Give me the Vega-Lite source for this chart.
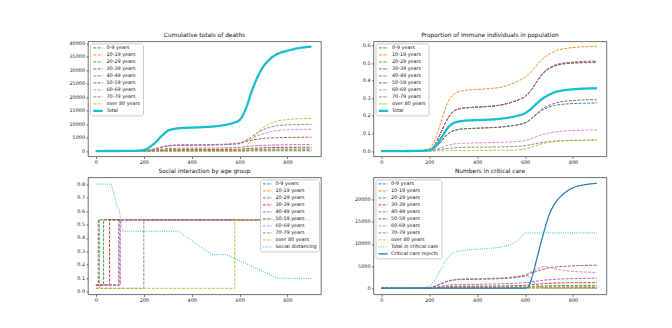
{
  "$schema": "https://vega.github.io/schema/vega-lite/v6.json",
  "background": "white",
  "padding": {"left": 68, "top": 30.4, "right": 5, "bottom": 5},
  "columns": 2,
  "spacing": {"row": 1, "column": 31.5},
  "datasets": {
    "deaths": [
      {"x": 0, "0-9 years": 0, "10-19 years": 0, "20-29 years": 0, "30-39 years": 0, "40-49 years": 0, "50-59 years": 0, "60-69 years": 0, "70-79 years": 0, "over 80 years": 0, "Total": 0},
      {"x": 150, "0-9 years": 0, "10-19 years": 0, "20-29 years": 2, "30-39 years": 3, "40-49 years": 6, "50-59 years": 13, "60-69 years": 14, "70-79 years": 13, "over 80 years": 0, "Total": 50},
      {"x": 200, "0-9 years": 1, "10-19 years": 3, "20-29 years": 13, "30-39 years": 25, "40-49 years": 49, "50-59 years": 99, "60-69 years": 108, "70-79 years": 103, "over 80 years": 0, "Total": 400},
      {"x": 225, "0-9 years": 4, "10-19 years": 11, "20-29 years": 48, "30-39 years": 93, "40-49 years": 185, "50-59 years": 370, "60-69 years": 405, "70-79 years": 387, "over 80 years": 0, "Total": 1500},
      {"x": 250, "0-9 years": 8, "10-19 years": 25, "20-29 years": 105, "30-39 years": 206, "40-49 years": 407, "50-59 years": 815, "60-69 years": 892, "70-79 years": 853, "over 80 years": 0, "Total": 3300},
      {"x": 275, "0-9 years": 13, "10-19 years": 43, "20-29 years": 178, "30-39 years": 349, "40-49 years": 692, "50-59 years": 1384, "60-69 years": 1516, "70-79 years": 1450, "over 80 years": 0, "Total": 5600},
      {"x": 300, "0-9 years": 18, "10-19 years": 57, "20-29 years": 238, "30-39 years": 467, "40-49 years": 926, "50-59 years": 1852, "60-69 years": 2029, "70-79 years": 1940, "over 80 years": 0, "Total": 7500},
      {"x": 325, "0-9 years": 19, "10-19 years": 63, "20-29 years": 260, "30-39 years": 511, "40-49 years": 1013, "50-59 years": 2027, "60-69 years": 2220, "70-79 years": 2123, "over 80 years": 0, "Total": 8200},
      {"x": 350, "0-9 years": 20, "10-19 years": 65, "20-29 years": 270, "30-39 years": 530, "40-49 years": 1050, "50-59 years": 2100, "60-69 years": 2300, "70-79 years": 2200, "over 80 years": 0, "Total": 8500},
      {"x": 400, "0-9 years": 21, "10-19 years": 67, "20-29 years": 277, "30-39 years": 543, "40-49 years": 1073, "50-59 years": 2153, "60-69 years": 2353, "70-79 years": 2233, "over 80 years": 0, "Total": 8700},
      {"x": 450, "0-9 years": 21, "10-19 years": 69, "20-29 years": 283, "30-39 years": 555, "40-49 years": 1096, "50-59 years": 2207, "60-69 years": 2407, "70-79 years": 2267, "over 80 years": 0, "Total": 8900},
      {"x": 500, "0-9 years": 22, "10-19 years": 73, "20-29 years": 293, "30-39 years": 575, "40-49 years": 1132, "50-59 years": 2287, "60-69 years": 2487, "70-79 years": 2317, "over 80 years": 0, "Total": 9200},
      {"x": 550, "0-9 years": 25, "10-19 years": 81, "20-29 years": 317, "30-39 years": 620, "40-49 years": 1210, "50-59 years": 2473, "60-69 years": 2673, "70-79 years": 2433, "over 80 years": 0, "Total": 9900},
      {"x": 575, "0-9 years": 27, "10-19 years": 88, "20-29 years": 337, "30-39 years": 660, "40-49 years": 1283, "50-59 years": 2633, "60-69 years": 2833, "70-79 years": 2533, "over 80 years": 0, "Total": 10500},
      {"x": 600, "0-9 years": 30, "10-19 years": 100, "20-29 years": 370, "30-39 years": 720, "40-49 years": 1400, "50-59 years": 2900, "60-69 years": 3100, "70-79 years": 2700, "over 80 years": 150, "Total": 11500},
      {"x": 625, "0-9 years": 40, "10-19 years": 140, "20-29 years": 430, "30-39 years": 850, "40-49 years": 1650, "50-59 years": 3500, "60-69 years": 3800, "70-79 years": 3800, "over 80 years": 1500, "Total": 15500},
      {"x": 650, "0-9 years": 55, "10-19 years": 200, "20-29 years": 520, "30-39 years": 990, "40-49 years": 1850, "50-59 years": 4000, "60-69 years": 4700, "70-79 years": 5300, "over 80 years": 4000, "Total": 22000},
      {"x": 675, "0-9 years": 70, "10-19 years": 260, "20-29 years": 600, "30-39 years": 1100, "40-49 years": 2000, "50-59 years": 4400, "60-69 years": 5700, "70-79 years": 6800, "over 80 years": 6800, "Total": 27500},
      {"x": 700, "0-9 years": 80, "10-19 years": 300, "20-29 years": 650, "30-39 years": 1200, "40-49 years": 2100, "50-59 years": 4700, "60-69 years": 6500, "70-79 years": 8000, "over 80 years": 8800, "Total": 31500},
      {"x": 725, "0-9 years": 88, "10-19 years": 340, "20-29 years": 690, "30-39 years": 1270, "40-49 years": 2200, "50-59 years": 4850, "60-69 years": 7100, "70-79 years": 8800, "over 80 years": 10100, "Total": 34000},
      {"x": 750, "0-9 years": 93, "10-19 years": 365, "20-29 years": 715, "30-39 years": 1320, "40-49 years": 2270, "50-59 years": 4950, "60-69 years": 7500, "70-79 years": 9300, "over 80 years": 11000, "Total": 35700},
      {"x": 800, "0-9 years": 97, "10-19 years": 385, "20-29 years": 735, "30-39 years": 1370, "40-49 years": 2350, "50-59 years": 5050, "60-69 years": 7850, "70-79 years": 9700, "over 80 years": 11700, "Total": 37300},
      {"x": 850, "0-9 years": 99, "10-19 years": 395, "20-29 years": 745, "30-39 years": 1390, "40-49 years": 2390, "50-59 years": 5100, "60-69 years": 8000, "70-79 years": 9850, "over 80 years": 12000, "Total": 38300},
      {"x": 900, "0-9 years": 100, "10-19 years": 400, "20-29 years": 750, "30-39 years": 1400, "40-49 years": 2400, "50-59 years": 5150, "60-69 years": 8100, "70-79 years": 9900, "over 80 years": 12100, "Total": 38800}
    ],
    "immune": [
      {"x": 0, "0-9 years": 0, "10-19 years": 0, "20-29 years": 0, "30-39 years": 0, "40-49 years": 0, "50-59 years": 0, "60-69 years": 0, "70-79 years": 0, "over 80 years": 0, "Total": 0},
      {"x": 150, "0-9 years": 0.001, "10-19 years": 0.002, "20-29 years": 0.001, "30-39 years": 0.001, "40-49 years": 0.001, "50-59 years": 0.001, "60-69 years": 0, "70-79 years": 0, "over 80 years": 0, "Total": 0.001},
      {"x": 200, "0-9 years": 0.004, "10-19 years": 0.015, "20-29 years": 0.008, "30-39 years": 0.008, "40-49 years": 0.008, "50-59 years": 0.004, "60-69 years": 0.002, "70-79 years": 0.001, "over 80 years": 0, "Total": 0.005},
      {"x": 225, "0-9 years": 0.02, "10-19 years": 0.07, "20-29 years": 0.04, "30-39 years": 0.04, "40-49 years": 0.04, "50-59 years": 0.02, "60-69 years": 0.008, "70-79 years": 0.004, "over 80 years": 0.001, "Total": 0.025},
      {"x": 250, "0-9 years": 0.055, "10-19 years": 0.17, "20-29 years": 0.11, "30-39 years": 0.11, "40-49 years": 0.11, "50-59 years": 0.055, "60-69 years": 0.02, "70-79 years": 0.01, "over 80 years": 0.002, "Total": 0.075},
      {"x": 275, "0-9 years": 0.095, "10-19 years": 0.27, "20-29 years": 0.18, "30-39 years": 0.18, "40-49 years": 0.18, "50-59 years": 0.095, "60-69 years": 0.032, "70-79 years": 0.015, "over 80 years": 0.002, "Total": 0.128},
      {"x": 300, "0-9 years": 0.115, "10-19 years": 0.32, "20-29 years": 0.225, "30-39 years": 0.225, "40-49 years": 0.225, "50-59 years": 0.115, "60-69 years": 0.04, "70-79 years": 0.018, "over 80 years": 0.003, "Total": 0.158},
      {"x": 325, "0-9 years": 0.124, "10-19 years": 0.338, "20-29 years": 0.24, "30-39 years": 0.24, "40-49 years": 0.24, "50-59 years": 0.124, "60-69 years": 0.044, "70-79 years": 0.02, "over 80 years": 0.003, "Total": 0.169},
      {"x": 350, "0-9 years": 0.127, "10-19 years": 0.345, "20-29 years": 0.245, "30-39 years": 0.245, "40-49 years": 0.245, "50-59 years": 0.127, "60-69 years": 0.045, "70-79 years": 0.021, "over 80 years": 0.003, "Total": 0.173},
      {"x": 400, "0-9 years": 0.13, "10-19 years": 0.35, "20-29 years": 0.25, "30-39 years": 0.25, "40-49 years": 0.25, "50-59 years": 0.13, "60-69 years": 0.047, "70-79 years": 0.022, "over 80 years": 0.004, "Total": 0.176},
      {"x": 450, "0-9 years": 0.133, "10-19 years": 0.355, "20-29 years": 0.254, "30-39 years": 0.254, "40-49 years": 0.254, "50-59 years": 0.133, "60-69 years": 0.048, "70-79 years": 0.023, "over 80 years": 0.004, "Total": 0.179},
      {"x": 500, "0-9 years": 0.137, "10-19 years": 0.363, "20-29 years": 0.262, "30-39 years": 0.262, "40-49 years": 0.262, "50-59 years": 0.137, "60-69 years": 0.05, "70-79 years": 0.024, "over 80 years": 0.005, "Total": 0.184},
      {"x": 550, "0-9 years": 0.145, "10-19 years": 0.385, "20-29 years": 0.28, "30-39 years": 0.28, "40-49 years": 0.28, "50-59 years": 0.145, "60-69 years": 0.053, "70-79 years": 0.026, "over 80 years": 0.006, "Total": 0.195},
      {"x": 575, "0-9 years": 0.151, "10-19 years": 0.4, "20-29 years": 0.292, "30-39 years": 0.292, "40-49 years": 0.292, "50-59 years": 0.151, "60-69 years": 0.056, "70-79 years": 0.028, "over 80 years": 0.008, "Total": 0.203},
      {"x": 600, "0-9 years": 0.16, "10-19 years": 0.42, "20-29 years": 0.31, "30-39 years": 0.31, "40-49 years": 0.31, "50-59 years": 0.16, "60-69 years": 0.06, "70-79 years": 0.031, "over 80 years": 0.013, "Total": 0.215},
      {"x": 625, "0-9 years": 0.182, "10-19 years": 0.45, "20-29 years": 0.345, "30-39 years": 0.345, "40-49 years": 0.346, "50-59 years": 0.184, "60-69 years": 0.07, "70-79 years": 0.037, "over 80 years": 0.022, "Total": 0.24},
      {"x": 650, "0-9 years": 0.21, "10-19 years": 0.49, "20-29 years": 0.395, "30-39 years": 0.396, "40-49 years": 0.397, "50-59 years": 0.215, "60-69 years": 0.083, "70-79 years": 0.044, "over 80 years": 0.033, "Total": 0.272},
      {"x": 675, "0-9 years": 0.235, "10-19 years": 0.525, "20-29 years": 0.44, "30-39 years": 0.442, "40-49 years": 0.444, "50-59 years": 0.242, "60-69 years": 0.095, "70-79 years": 0.05, "over 80 years": 0.043, "Total": 0.3},
      {"x": 700, "0-9 years": 0.25, "10-19 years": 0.55, "20-29 years": 0.468, "30-39 years": 0.47, "40-49 years": 0.472, "50-59 years": 0.26, "60-69 years": 0.103, "70-79 years": 0.054, "over 80 years": 0.05, "Total": 0.32},
      {"x": 725, "0-9 years": 0.26, "10-19 years": 0.567, "20-29 years": 0.483, "30-39 years": 0.486, "40-49 years": 0.489, "50-59 years": 0.272, "60-69 years": 0.109, "70-79 years": 0.057, "over 80 years": 0.055, "Total": 0.335},
      {"x": 750, "0-9 years": 0.265, "10-19 years": 0.578, "20-29 years": 0.492, "30-39 years": 0.495, "40-49 years": 0.498, "50-59 years": 0.28, "60-69 years": 0.113, "70-79 years": 0.059, "over 80 years": 0.058, "Total": 0.343},
      {"x": 800, "0-9 years": 0.27, "10-19 years": 0.588, "20-29 years": 0.499, "30-39 years": 0.502, "40-49 years": 0.506, "50-59 years": 0.287, "60-69 years": 0.117, "70-79 years": 0.061, "over 80 years": 0.06, "Total": 0.351},
      {"x": 850, "0-9 years": 0.272, "10-19 years": 0.593, "20-29 years": 0.502, "30-39 years": 0.505, "40-49 years": 0.51, "50-59 years": 0.291, "60-69 years": 0.119, "70-79 years": 0.062, "over 80 years": 0.061, "Total": 0.355},
      {"x": 900, "0-9 years": 0.273, "10-19 years": 0.595, "20-29 years": 0.503, "30-39 years": 0.507, "40-49 years": 0.512, "50-59 years": 0.292, "60-69 years": 0.12, "70-79 years": 0.063, "over 80 years": 0.062, "Total": 0.357}
    ],
    "social": [
      {"g": "0-9 years", "x": 0, "y": 0.05}, {"g": "0-9 years", "x": 10, "y": 0.535}, {"g": "0-9 years", "x": 900, "y": 0.535},
      {"g": "10-19 years", "x": 0, "y": 0.025}, {"g": "10-19 years", "x": 15, "y": 0.535}, {"g": "10-19 years", "x": 900, "y": 0.535},
      {"g": "20-29 years", "x": 0, "y": 0.05}, {"g": "20-29 years", "x": 32, "y": 0.535}, {"g": "20-29 years", "x": 900, "y": 0.535},
      {"g": "30-39 years", "x": 0, "y": 0.05}, {"g": "30-39 years", "x": 57, "y": 0.535}, {"g": "30-39 years", "x": 900, "y": 0.535},
      {"g": "40-49 years", "x": 0, "y": 0.05}, {"g": "40-49 years", "x": 95, "y": 0.535}, {"g": "40-49 years", "x": 900, "y": 0.535},
      {"g": "50-59 years", "x": 0, "y": 0.05}, {"g": "50-59 years", "x": 100, "y": 0.535}, {"g": "50-59 years", "x": 900, "y": 0.535},
      {"g": "60-69 years", "x": 0, "y": 0.05}, {"g": "60-69 years", "x": 103, "y": 0.535}, {"g": "60-69 years", "x": 900, "y": 0.535},
      {"g": "70-79 years", "x": 0, "y": 0.025}, {"g": "70-79 years", "x": 200, "y": 0.535}, {"g": "70-79 years", "x": 900, "y": 0.535},
      {"g": "over 80 years", "x": 0, "y": 0.025}, {"g": "over 80 years", "x": 580, "y": 0.535}, {"g": "over 80 years", "x": 900, "y": 0.535},
      {"g": "Social distancing", "x": 0, "y": 0.8}, {"g": "Social distancing", "x": 64, "y": 0.8}, {"g": "Social distancing", "x": 89, "y": 0.63},
      {"g": "Social distancing", "x": 97, "y": 0.61}, {"g": "Social distancing", "x": 112, "y": 0.45}, {"g": "Social distancing", "x": 344, "y": 0.45},
      {"g": "Social distancing", "x": 483, "y": 0.277}, {"g": "Social distancing", "x": 543, "y": 0.277}, {"g": "Social distancing", "x": 760, "y": 0.1},
      {"g": "Social distancing", "x": 900, "y": 0.1}
    ],
    "critical": [
      {"x": 0, "0-9 years": 0, "10-19 years": 0, "20-29 years": 0, "30-39 years": 0, "40-49 years": 0, "50-59 years": 0, "60-69 years": 0, "70-79 years": 0, "over 80 years": 0, "Total in critical care": 0, "Critical care rejects": 0},
      {"x": 150, "0-9 years": 0, "10-19 years": 0, "20-29 years": 0, "30-39 years": 0, "40-49 years": 0, "50-59 years": 1, "60-69 years": 1, "70-79 years": 1, "over 80 years": 0, "Total in critical care": 50, "Critical care rejects": 0},
      {"x": 200, "0-9 years": 2, "10-19 years": 5, "20-29 years": 13, "30-39 years": 26, "40-49 years": 50, "50-59 years": 115, "60-69 years": 120, "70-79 years": 115, "over 80 years": 0, "Total in critical care": 500, "Critical care rejects": 0},
      {"x": 225, "0-9 years": 9, "10-19 years": 21, "20-29 years": 54, "30-39 years": 105, "40-49 years": 200, "50-59 years": 460, "60-69 years": 480, "70-79 years": 460, "over 80 years": 0, "Total in critical care": 2000, "Critical care rejects": 0},
      {"x": 250, "0-9 years": 20, "10-19 years": 46, "20-29 years": 118, "30-39 years": 230, "40-49 years": 440, "50-59 years": 1010, "60-69 years": 1060, "70-79 years": 1010, "over 80 years": 0, "Total in critical care": 4400, "Critical care rejects": 0},
      {"x": 275, "0-9 years": 31, "10-19 years": 70, "20-29 years": 179, "30-39 years": 350, "40-49 years": 670, "50-59 years": 1540, "60-69 years": 1610, "70-79 years": 1540, "over 80 years": 0, "Total in critical care": 6700, "Critical care rejects": 0},
      {"x": 300, "0-9 years": 37, "10-19 years": 84, "20-29 years": 214, "30-39 years": 418, "40-49 years": 800, "50-59 years": 1850, "60-69 years": 1940, "70-79 years": 1850, "over 80 years": 0, "Total in critical care": 8000, "Critical care rejects": 0},
      {"x": 325, "0-9 years": 39, "10-19 years": 88, "20-29 years": 225, "30-39 years": 440, "40-49 years": 835, "50-59 years": 1950, "60-69 years": 2050, "70-79 years": 1950, "over 80 years": 0, "Total in critical care": 8400, "Critical care rejects": 0},
      {"x": 350, "0-9 years": 40, "10-19 years": 90, "20-29 years": 230, "30-39 years": 450, "40-49 years": 850, "50-59 years": 2000, "60-69 years": 2100, "70-79 years": 2000, "over 80 years": 0, "Total in critical care": 8600, "Critical care rejects": 0},
      {"x": 400, "0-9 years": 41, "10-19 years": 92, "20-29 years": 235, "30-39 years": 460, "40-49 years": 870, "50-59 years": 2050, "60-69 years": 2150, "70-79 years": 2050, "over 80 years": 0, "Total in critical care": 8800, "Critical care rejects": 0},
      {"x": 450, "0-9 years": 43, "10-19 years": 96, "20-29 years": 245, "30-39 years": 480, "40-49 years": 920, "50-59 years": 2120, "60-69 years": 2220, "70-79 years": 2110, "over 80 years": 0, "Total in critical care": 9000, "Critical care rejects": 0},
      {"x": 500, "0-9 years": 45, "10-19 years": 102, "20-29 years": 260, "30-39 years": 510, "40-49 years": 990, "50-59 years": 2220, "60-69 years": 2320, "70-79 years": 2180, "over 80 years": 0, "Total in critical care": 9300, "Critical care rejects": 0},
      {"x": 550, "0-9 years": 50, "10-19 years": 115, "20-29 years": 285, "30-39 years": 560, "40-49 years": 1100, "50-59 years": 2450, "60-69 years": 2550, "70-79 years": 2350, "over 80 years": 0, "Total in critical care": 10200, "Critical care rejects": 0},
      {"x": 575, "0-9 years": 54, "10-19 years": 130, "20-29 years": 300, "30-39 years": 600, "40-49 years": 1170, "50-59 years": 2620, "60-69 years": 2720, "70-79 years": 2500, "over 80 years": 0, "Total in critical care": 11000, "Critical care rejects": 0},
      {"x": 600, "0-9 years": 60, "10-19 years": 150, "20-29 years": 320, "30-39 years": 650, "40-49 years": 1250, "50-59 years": 2900, "60-69 years": 3000, "70-79 years": 2700, "over 80 years": 0, "Total in critical care": 12500, "Critical care rejects": 0},
      {"x": 610, "0-9 years": 62, "10-19 years": 165, "20-29 years": 340, "30-39 years": 690, "40-49 years": 1310, "50-59 years": 3100, "60-69 years": 3250, "70-79 years": 2800, "over 80 years": 40, "Total in critical care": 12500, "Critical care rejects": 100},
      {"x": 625, "0-9 years": 68, "10-19 years": 190, "20-29 years": 380, "30-39 years": 760, "40-49 years": 1420, "50-59 years": 3450, "60-69 years": 3700, "70-79 years": 2200, "over 80 years": 30, "Total in critical care": 12500, "Critical care rejects": 1800},
      {"x": 640, "0-9 years": 75, "10-19 years": 225, "20-29 years": 430, "30-39 years": 840, "40-49 years": 1540, "50-59 years": 3700, "60-69 years": 4100, "70-79 years": 1200, "over 80 years": 10, "Total in critical care": 12500, "Critical care rejects": 4700},
      {"x": 650, "0-9 years": 80, "10-19 years": 245, "20-29 years": 460, "30-39 years": 900, "40-49 years": 1600, "50-59 years": 3850, "60-69 years": 4350, "70-79 years": 700, "over 80 years": 0, "Total in critical care": 12500, "Critical care rejects": 6800},
      {"x": 665, "0-9 years": 86, "10-19 years": 270, "20-29 years": 500, "30-39 years": 980, "40-49 years": 1720, "50-59 years": 4100, "60-69 years": 4650, "70-79 years": 250, "over 80 years": 0, "Total in critical care": 12500, "Critical care rejects": 10000},
      {"x": 680, "0-9 years": 92, "10-19 years": 290, "20-29 years": 530, "30-39 years": 1050, "40-49 years": 1830, "50-59 years": 4300, "60-69 years": 4900, "70-79 years": 50, "over 80 years": 0, "Total in critical care": 12500, "Critical care rejects": 13000},
      {"x": 700, "0-9 years": 100, "10-19 years": 300, "20-29 years": 550, "30-39 years": 1100, "40-49 years": 1900, "50-59 years": 4600, "60-69 years": 4750, "70-79 years": 0, "over 80 years": 0, "Total in critical care": 12500, "Critical care rejects": 16500},
      {"x": 725, "0-9 years": 106, "10-19 years": 315, "20-29 years": 580, "30-39 years": 1160, "40-49 years": 2000, "50-59 years": 4780, "60-69 years": 4350, "70-79 years": 0, "over 80 years": 0, "Total in critical care": 12500, "Critical care rejects": 19200},
      {"x": 750, "0-9 years": 110, "10-19 years": 325, "20-29 years": 600, "30-39 years": 1200, "40-49 years": 2080, "50-59 years": 4900, "60-69 years": 4100, "70-79 years": 0, "over 80 years": 0, "Total in critical care": 12500, "Critical care rejects": 20800},
      {"x": 800, "0-9 years": 115, "10-19 years": 340, "20-29 years": 625, "30-39 years": 1230, "40-49 years": 2150, "50-59 years": 5050, "60-69 years": 3800, "70-79 years": 0, "over 80 years": 0, "Total in critical care": 12500, "Critical care rejects": 22700},
      {"x": 850, "0-9 years": 118, "10-19 years": 347, "20-29 years": 640, "30-39 years": 1245, "40-49 years": 2210, "50-59 years": 5150, "60-69 years": 3650, "70-79 years": 0, "over 80 years": 0, "Total in critical care": 12500, "Critical care rejects": 23400},
      {"x": 900, "0-9 years": 120, "10-19 years": 350, "20-29 years": 650, "30-39 years": 1250, "40-49 years": 2250, "50-59 years": 5200, "60-69 years": 3550, "70-79 years": 0, "over 80 years": 0, "Total in critical care": 12500, "Critical care rejects": 23700}
    ]
  },
  "concat": [
    {
      "title": "Cumulative totals of deaths",
      "width": 233, "height": 115,
      "data": {"name": "deaths"},
      "transform": [{"fold": ["0-9 years", "10-19 years", "20-29 years", "30-39 years", "40-49 years", "50-59 years", "60-69 years", "70-79 years", "over 80 years", "Total"], "as": ["g", "v"]}],
      "mark": {"type": "line", "interpolate": "monotone"},
      "encoding": {
        "x": {"field": "x", "type": "quantitative", "title": null, "scale": {"domain": [-33, 940], "nice": false, "zero": false}, "axis": {"values": [0, 200, 400, 600, 800]}},
        "y": {"field": "v", "type": "quantitative", "title": null, "scale": {"domain": [-1990, 40745], "nice": false, "zero": false}, "axis": {"values": [0, 5000, 10000, 15000, 20000, 25000, 30000, 35000, 40000], "format": "d"}},
        "color": {"field": "g", "type": "nominal", "legend": {"title": null}, "scale": {"domain": ["0-9 years", "10-19 years", "20-29 years", "30-39 years", "40-49 years", "50-59 years", "60-69 years", "70-79 years", "over 80 years", "Total"], "range": ["#1f77b4", "#ff7f0e", "#2ca02c", "#d62728", "#9467bd", "#8c564b", "#e377c2", "#7f7f7f", "#bcbd22", "#17becf"]}},
        "strokeDash": {"field": "g", "type": "nominal", "legend": {"title": null}, "scale": {"domain": ["0-9 years", "10-19 years", "20-29 years", "30-39 years", "40-49 years", "50-59 years", "60-69 years", "70-79 years", "over 80 years", "Total"], "range": [[3, 1.3], [3, 1.3], [3, 1.3], [3, 1.3], [3, 1.3], [3, 1.3], [3, 1.3], [3, 1.3], [3, 1.3], [1, 0]]}},
        "strokeWidth": {"field": "g", "type": "nominal", "legend": {"title": null}, "scale": {"type": "ordinal", "domain": ["0-9 years", "10-19 years", "20-29 years", "30-39 years", "40-49 years", "50-59 years", "60-69 years", "70-79 years", "over 80 years", "Total"], "range": [0.9, 0.9, 0.9, 0.9, 0.9, 0.9, 0.9, 0.9, 0.9, 2.3]}}
      }
    },
    {
      "title": "Proportion of immune individuals in population",
      "width": 233, "height": 115,
      "data": {"name": "immune"},
      "transform": [{"fold": ["0-9 years", "10-19 years", "20-29 years", "30-39 years", "40-49 years", "50-59 years", "60-69 years", "70-79 years", "over 80 years", "Total"], "as": ["g", "v"]}],
      "mark": {"type": "line", "interpolate": "monotone"},
      "encoding": {
        "x": {"field": "x", "type": "quantitative", "title": null, "scale": {"domain": [-33, 940], "nice": false, "zero": false}, "axis": {"values": [0, 200, 400, 600, 800]}},
        "y": {"field": "v", "type": "quantitative", "title": null, "scale": {"domain": [-0.03, 0.623], "nice": false, "zero": false}, "axis": {"values": [0, 0.1, 0.2, 0.3, 0.4, 0.5, 0.6], "format": ".1f"}},
        "color": {"field": "g", "type": "nominal", "legend": {"title": null}, "scale": {"domain": ["0-9 years", "10-19 years", "20-29 years", "30-39 years", "40-49 years", "50-59 years", "60-69 years", "70-79 years", "over 80 years", "Total"], "range": ["#1f77b4", "#ff7f0e", "#2ca02c", "#d62728", "#9467bd", "#8c564b", "#e377c2", "#7f7f7f", "#bcbd22", "#17becf"]}},
        "strokeDash": {"field": "g", "type": "nominal", "legend": {"title": null}, "scale": {"domain": ["0-9 years", "10-19 years", "20-29 years", "30-39 years", "40-49 years", "50-59 years", "60-69 years", "70-79 years", "over 80 years", "Total"], "range": [[3, 1.3], [3, 1.3], [3, 1.3], [3, 1.3], [3, 1.3], [3, 1.3], [3, 1.3], [3, 1.3], [3, 1.3], [1, 0]]}},
        "strokeWidth": {"field": "g", "type": "nominal", "legend": {"title": null}, "scale": {"type": "ordinal", "domain": ["0-9 years", "10-19 years", "20-29 years", "30-39 years", "40-49 years", "50-59 years", "60-69 years", "70-79 years", "over 80 years", "Total"], "range": [0.9, 0.9, 0.9, 0.9, 0.9, 0.9, 0.9, 0.9, 0.9, 2.3]}}
      }
    },
    {
      "title": "Social interaction by age group",
      "width": 233, "height": 117,
      "data": {"name": "social"},
      "encoding": {
        "x": {"field": "x", "type": "quantitative", "title": null, "scale": {"domain": [-33, 940], "nice": false, "zero": false}, "axis": {"values": [0, 200, 400, 600, 800]}},
        "y": {"field": "y", "type": "quantitative", "title": null, "scale": {"domain": [-0.02, 0.85], "nice": false, "zero": false}, "axis": {"values": [0, 0.1, 0.2, 0.3, 0.4, 0.5, 0.6, 0.7, 0.8], "format": ".1f"}},
        "color": {"field": "g", "type": "nominal", "legend": {"title": null, "orient": "top-right"}, "scale": {"domain": ["0-9 years", "10-19 years", "20-29 years", "30-39 years", "40-49 years", "50-59 years", "60-69 years", "70-79 years", "over 80 years", "Social distancing"], "range": ["#1f77b4", "#ff7f0e", "#2ca02c", "#d62728", "#9467bd", "#8c564b", "#e377c2", "#7f7f7f", "#bcbd22", "#17becf"]}},
        "strokeDash": {"field": "g", "type": "nominal", "legend": {"title": null, "orient": "top-right"}, "scale": {"domain": ["0-9 years", "10-19 years", "20-29 years", "30-39 years", "40-49 years", "50-59 years", "60-69 years", "70-79 years", "over 80 years", "Social distancing"], "range": [[3, 1.3], [3, 1.3], [3, 1.3], [3, 1.3], [3, 1.3], [3, 1.3], [3, 1.3], [3, 1.3], [3, 1.3], [0.9, 1.3]]}},
        "strokeWidth": {"field": "g", "type": "nominal", "legend": {"title": null, "orient": "top-right"}, "scale": {"type": "ordinal", "domain": ["0-9 years", "10-19 years", "20-29 years", "30-39 years", "40-49 years", "50-59 years", "60-69 years", "70-79 years", "over 80 years", "Social distancing"], "range": [0.9, 0.9, 0.9, 0.9, 0.9, 0.9, 0.9, 0.9, 0.9, 1]}}
      },
      "layer": [
        {"transform": [{"filter": "datum.g != 'Social distancing'"}], "mark": {"type": "line", "interpolate": "step-after"}},
        {"transform": [{"filter": "datum.g == 'Social distancing'"}], "mark": {"type": "line"}}
      ]
    },
    {
      "title": "Numbers in critical care",
      "width": 233, "height": 117,
      "data": {"name": "critical"},
      "transform": [{"fold": ["0-9 years", "10-19 years", "20-29 years", "30-39 years", "40-49 years", "50-59 years", "60-69 years", "70-79 years", "over 80 years", "Total in critical care", "Critical care rejects"], "as": ["g", "v"]}],
      "mark": {"type": "line", "interpolate": "monotone"},
      "encoding": {
        "x": {"field": "x", "type": "quantitative", "title": null, "scale": {"domain": [-33, 940], "nice": false, "zero": false}, "axis": {"values": [0, 200, 400, 600, 800]}},
        "y": {"field": "v", "type": "quantitative", "title": null, "scale": {"domain": [-1400, 25050], "nice": false, "zero": false}, "axis": {"values": [0, 5000, 10000, 15000, 20000], "format": "d"}},
        "color": {"field": "g", "type": "nominal", "legend": {"title": null}, "scale": {"domain": ["0-9 years", "10-19 years", "20-29 years", "30-39 years", "40-49 years", "50-59 years", "60-69 years", "70-79 years", "over 80 years", "Total in critical care", "Critical care rejects"], "range": ["#1f77b4", "#ff7f0e", "#2ca02c", "#d62728", "#9467bd", "#8c564b", "#e377c2", "#7f7f7f", "#bcbd22", "#17becf", "#1f77b4"]}},
        "strokeDash": {"field": "g", "type": "nominal", "legend": {"title": null}, "scale": {"domain": ["0-9 years", "10-19 years", "20-29 years", "30-39 years", "40-49 years", "50-59 years", "60-69 years", "70-79 years", "over 80 years", "Total in critical care", "Critical care rejects"], "range": [[3, 1.3], [3, 1.3], [3, 1.3], [3, 1.3], [3, 1.3], [3, 1.3], [3, 1.3], [3, 1.3], [3, 1.3], [0.9, 1.3], [1, 0]]}},
        "strokeWidth": {"field": "g", "type": "nominal", "legend": {"title": null}, "scale": {"type": "ordinal", "domain": ["0-9 years", "10-19 years", "20-29 years", "30-39 years", "40-49 years", "50-59 years", "60-69 years", "70-79 years", "over 80 years", "Total in critical care", "Critical care rejects"], "range": [0.9, 0.9, 0.9, 0.9, 0.9, 0.9, 0.9, 0.9, 0.9, 1, 1.2]}}
      }
    }
  ],
  "resolve": {"scale": {"x": "independent", "y": "independent", "color": "independent", "strokeDash": "independent", "strokeWidth": "independent"}},
  "config": {
    "font": "DejaVu Sans",
    "view": {"stroke": "#333333", "strokeWidth": 0.7},
    "axis": {"grid": false, "domain": false, "tickColor": "#222222", "tickSize": 2, "tickWidth": 0.6, "labelFont": "DejaVu Sans", "labelFontSize": 4.9, "labelColor": "#222222", "labelPadding": 1.5},
    "axisY": {"minExtent": 19, "maxExtent": 19},
    "axisX": {"minExtent": 9, "maxExtent": 9},
    "title": {"font": "DejaVu Sans", "fontSize": 5.9, "fontWeight": "normal", "color": "#111111", "offset": 3, "anchor": "middle"},
    "legend": {"orient": "top-left", "offset": 2, "padding": 2, "fillColor": "rgba(255,255,255,0.85)", "strokeColor": "#cccccc", "cornerRadius": 2, "labelFont": "DejaVu Sans", "labelFontSize": 4.9, "labelColor": "#111111", "labelOffset": 2.5, "symbolType": "stroke", "symbolSize": 86, "rowPadding": 1.0, "clipHeight": 5, "labelLimit": 100}
  }
}
